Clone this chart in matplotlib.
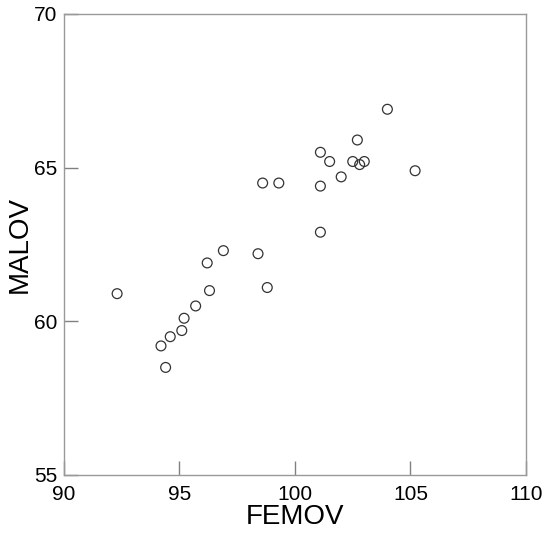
import matplotlib
matplotlib.use('Agg')
import matplotlib.pyplot as plt

# 数据
femov = [92.3, 94.2, 94.4, 94.6, 95.1, 95.2, 95.7, 96.2, 96.3, 96.9,
         98.4, 98.6, 98.8, 99.3, 101.1, 101.1, 101.1, 101.5, 102.0, 102.5,
         102.7, 102.8, 103.0, 104.0, 105.2]
malov = [60.9, 59.2, 58.5, 59.5, 59.7, 60.1, 60.5, 61.9, 61.0, 62.3,
         62.2, 64.5, 61.1, 64.5, 65.5, 64.4, 62.9, 65.2, 64.7, 65.2,
         65.9, 65.1, 65.2, 66.9, 64.9]
x_ticks = [90, 95, 100, 105, 110]
y_ticks = [55, 60, 65, 70]

plt.rcParams['font.family'] = ['Liberation Sans', 'DejaVu Sans']

fig = plt.figure(figsize=(5.44, 5.34), dpi=100)
ax = fig.add_axes([0.1176, 0.1105, 0.8493, 0.8633])

# 空心圆散点
ax.scatter(femov, malov, s=50, facecolors='none', edgecolors='#333333',
           linewidths=0.9, zorder=3)

ax.set_xlim(90, 110)
ax.set_ylim(55, 70)
ax.set_xticks(x_ticks)
ax.set_yticks(y_ticks)
ax.tick_params(direction='in', length=10, width=1.0, colors='#808080',
               labelcolor='black', labelsize=15, top=False, right=False)
ax.tick_params(axis='x', pad=7)
ax.tick_params(axis='y', pad=5)
for s in ax.spines.values():
    s.set_color('#999999')
    s.set_linewidth(1.0)

ax.set_xlabel('FEMOV', fontsize=20, labelpad=0)
ax.set_ylabel('MALOV', fontsize=20, labelpad=1)

plt.savefig('out.png', dpi=100)
